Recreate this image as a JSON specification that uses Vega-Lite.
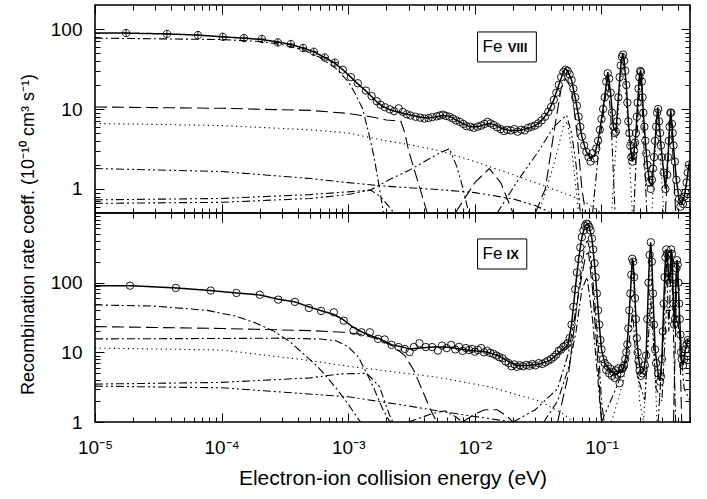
{
"$schema":"https://vega.github.io/schema/vega-lite/v6.json",
"padding":{"left":18,"top":3,"right":5,"bottom":5},
"config":{"view":{"stroke":"black","strokeWidth":1.6},"font":"Liberation Sans",
"axis":{"labelFont":"Liberation Sans","titleFont":"Liberation Sans","labelColor":"black","titleColor":"black","tickColor":"black","domain":false,"grid":false,"labelFontSize":19,"titleFontSize":19,"titleFontWeight":"normal","tickWidth":1}},
"datasets":{
"l8":[
{"s":"f","st":"solid","E":1e-5,"v":89},{"s":"f","st":"solid","E":1.76e-5,"v":89},{"s":"f","st":"solid","E":3.7e-5,"v":87},{"s":"f","st":"solid","E":6.5e-5,"v":84},{"s":"f","st":"solid","E":1.02e-4,"v":80},{"s":"f","st":"solid","E":1.5e-4,"v":77},{"s":"f","st":"solid","E":2.08e-4,"v":74},{"s":"f","st":"solid","E":2.78e-4,"v":69},{"s":"f","st":"solid","E":3.52e-4,"v":64},{"s":"f","st":"solid","E":4.39e-4,"v":58},{"s":"f","st":"solid","E":5.35e-4,"v":52},{"s":"f","st":"solid","E":6.53e-4,"v":44},{"s":"f","st":"solid","E":7.83e-4,"v":37.5},{"s":"f","st":"solid","E":9.06e-4,"v":31},{"s":"f","st":"solid","E":1.05e-3,"v":25},{"s":"f","st":"solid","E":1.19e-3,"v":20.6},{"s":"f","st":"solid","E":1.38e-3,"v":16.8},{"s":"f","st":"solid","E":1.53e-3,"v":14.3},{"s":"f","st":"solid","E":1.68e-3,"v":12.3},{"s":"f","st":"solid","E":1.87e-3,"v":10.8},{"s":"f","st":"solid","E":2.13e-3,"v":9.8},{"s":"f","st":"solid","E":2.42e-3,"v":9.2},{"s":"f","st":"solid","E":2.8e-3,"v":8.7},{"s":"f","st":"solid","E":3.2e-3,"v":8.3},{"s":"f","st":"solid","E":3.7e-3,"v":7.9},{"s":"f","st":"solid","E":4.25e-3,"v":7.7},{"s":"f","st":"solid","E":5e-3,"v":8.0},{"s":"f","st":"solid","E":5.6e-3,"v":8.3},{"s":"f","st":"solid","E":6.3e-3,"v":8.1},{"s":"f","st":"solid","E":7.1e-3,"v":7.3},{"s":"f","st":"solid","E":8.1e-3,"v":6.5},{"s":"f","st":"solid","E":9.2e-3,"v":6.0},{"s":"f","st":"solid","E":1.05e-2,"v":6.0},{"s":"f","st":"solid","E":1.19e-2,"v":6.4},{"s":"f","st":"solid","E":1.3e-2,"v":6.6},{"s":"f","st":"solid","E":1.44e-2,"v":6.3},{"s":"f","st":"solid","E":1.63e-2,"v":5.7},{"s":"f","st":"solid","E":1.88e-2,"v":5.4},{"s":"f","st":"solid","E":2.26e-2,"v":5.4},{"s":"f","st":"solid","E":2.71e-2,"v":5.8},{"s":"f","st":"solid","E":3.0e-2,"v":6.2},{"s":"f","st":"solid","E":3.37e-2,"v":7.2},{"s":"f","st":"solid","E":3.8e-2,"v":9.2},{"s":"f","st":"solid","E":4.2e-2,"v":13},{"s":"f","st":"solid","E":4.6e-2,"v":20},{"s":"f","st":"solid","E":5.0e-2,"v":29},{"s":"f","st":"solid","E":5.2e-2,"v":32},{"s":"f","st":"solid","E":5.4e-2,"v":30},{"s":"f","st":"solid","E":5.8e-2,"v":23},{"s":"f","st":"solid","E":6.2e-2,"v":14},{"s":"f","st":"solid","E":6.6e-2,"v":8},{"s":"f","st":"solid","E":7.0e-2,"v":4.5},{"s":"f","st":"solid","E":7.6e-2,"v":2.9},{"s":"f","st":"solid","E":8.2e-2,"v":2.4},{"s":"f","st":"solid","E":8.8e-2,"v":2.6},{"s":"f","st":"solid","E":9.4e-2,"v":4},{"s":"f","st":"solid","E":0.1,"v":7.5},{"s":"f","st":"solid","E":0.106,"v":14},{"s":"f","st":"solid","E":0.112,"v":29},{"s":"f","st":"solid","E":0.118,"v":16},{"s":"f","st":"solid","E":0.124,"v":6},{"s":"f","st":"solid","E":0.13,"v":5.2},{"s":"f","st":"solid","E":0.136,"v":14},{"s":"f","st":"solid","E":0.142,"v":35},{"s":"f","st":"solid","E":0.147,"v":50},{"s":"f","st":"solid","E":0.151,"v":40},{"s":"f","st":"solid","E":0.157,"v":20},{"s":"f","st":"solid","E":0.163,"v":7},{"s":"f","st":"solid","E":0.169,"v":3.5},{"s":"f","st":"solid","E":0.175,"v":2.2},{"s":"f","st":"solid","E":0.181,"v":3},{"s":"f","st":"solid","E":0.187,"v":5},{"s":"f","st":"solid","E":0.193,"v":12},{"s":"f","st":"solid","E":0.199,"v":25},{"s":"f","st":"solid","E":0.204,"v":31},{"s":"f","st":"solid","E":0.208,"v":22},{"s":"f","st":"solid","E":0.214,"v":9},{"s":"f","st":"solid","E":0.222,"v":4},{"s":"f","st":"solid","E":0.23,"v":2},{"s":"f","st":"solid","E":0.24,"v":1.2},{"s":"f","st":"solid","E":0.25,"v":1.1},{"s":"f","st":"solid","E":0.26,"v":2.5},{"s":"f","st":"solid","E":0.27,"v":6},{"s":"f","st":"solid","E":0.278,"v":10.5},{"s":"f","st":"solid","E":0.285,"v":7},{"s":"f","st":"solid","E":0.295,"v":3.5},{"s":"f","st":"solid","E":0.31,"v":1.6},{"s":"f","st":"solid","E":0.32,"v":1.0},{"s":"f","st":"solid","E":0.335,"v":2.5},{"s":"f","st":"solid","E":0.345,"v":6},{"s":"f","st":"solid","E":0.352,"v":9.7},{"s":"f","st":"solid","E":0.36,"v":6.5},{"s":"f","st":"solid","E":0.37,"v":3.5},{"s":"f","st":"solid","E":0.39,"v":1.3},{"s":"f","st":"solid","E":0.41,"v":0.75},{"s":"f","st":"solid","E":0.43,"v":0.65},{"s":"f","st":"solid","E":0.45,"v":0.8},{"s":"f","st":"solid","E":0.47,"v":1.2},{"s":"f","st":"solid","E":0.49,"v":2.0},{"s":"f","st":"solid","E":0.5,"v":2.3},
{"s":"c1","st":"dashdot","E":1e-5,"v":77},{"s":"c1","st":"dashdot","E":1e-4,"v":74},{"s":"c1","st":"dashdot","E":2e-4,"v":70},{"s":"c1","st":"dashdot","E":3e-4,"v":64},{"s":"c1","st":"dashdot","E":4.4e-4,"v":55},{"s":"c1","st":"dashdot","E":6e-4,"v":44},{"s":"c1","st":"dashdot","E":8e-4,"v":32},{"s":"c1","st":"dashdot","E":1e-3,"v":22},{"s":"c1","st":"dashdot","E":1.15e-3,"v":15},{"s":"c1","st":"dashdot","E":1.3e-3,"v":10},{"s":"c1","st":"dashdot","E":1.45e-3,"v":5},{"s":"c1","st":"dashdot","E":1.6e-3,"v":2.5},{"s":"c1","st":"dashdot","E":1.75e-3,"v":1.1},{"s":"c1","st":"dashdot","E":1.9e-3,"v":0.5},
{"s":"c2","st":"longdash","E":1e-5,"v":10.6},{"s":"c2","st":"longdash","E":1e-4,"v":10.2},{"s":"c2","st":"longdash","E":5e-4,"v":9.6},{"s":"c2","st":"longdash","E":1e-3,"v":8.8},{"s":"c2","st":"longdash","E":1.5e-3,"v":8},{"s":"c2","st":"longdash","E":2e-3,"v":7.3},{"s":"c2","st":"longdash","E":2.6e-3,"v":7},{"s":"c2","st":"longdash","E":2.8e-3,"v":5},{"s":"c2","st":"longdash","E":3e-3,"v":3},{"s":"c2","st":"longdash","E":3.3e-3,"v":1.8},{"s":"c2","st":"longdash","E":3.7e-3,"v":1},{"s":"c2","st":"longdash","E":4.2e-3,"v":0.5},
{"s":"c3","st":"dotted","E":1e-5,"v":6.6},{"s":"c3","st":"dotted","E":1e-4,"v":6.2},{"s":"c3","st":"dotted","E":5e-4,"v":5.5},{"s":"c3","st":"dotted","E":1e-3,"v":5},{"s":"c3","st":"dotted","E":2e-3,"v":4},{"s":"c3","st":"dotted","E":3e-3,"v":3.6},{"s":"c3","st":"dotted","E":5.3e-3,"v":3},{"s":"c3","st":"dotted","E":1e-2,"v":2.2},{"s":"c3","st":"dotted","E":1.8e-2,"v":1.6},{"s":"c3","st":"dotted","E":3.5e-2,"v":1.1},{"s":"c3","st":"dotted","E":7e-2,"v":0.73},{"s":"c3","st":"dotted","E":0.1,"v":0.5},
{"s":"c4","st":"dashdotdot","E":1e-5,"v":1.8},{"s":"c4","st":"dashdotdot","E":1e-4,"v":1.65},{"s":"c4","st":"dashdotdot","E":5e-4,"v":1.35},{"s":"c4","st":"dashdotdot","E":1e-3,"v":1.2},{"s":"c4","st":"dashdotdot","E":2e-3,"v":1.08},{"s":"c4","st":"dashdotdot","E":5.3e-3,"v":0.98},{"s":"c4","st":"dashdotdot","E":1e-2,"v":0.9},{"s":"c4","st":"dashdotdot","E":2e-2,"v":0.75},{"s":"c4","st":"dashdotdot","E":3e-2,"v":0.62},{"s":"c4","st":"dashdotdot","E":4e-2,"v":0.5},
{"s":"c5","st":"dashdotdot","E":1e-5,"v":0.73},{"s":"c5","st":"dashdotdot","E":1e-4,"v":0.76},{"s":"c5","st":"dashdotdot","E":5e-4,"v":0.85},{"s":"c5","st":"dashdotdot","E":1e-3,"v":0.92},{"s":"c5","st":"dashdotdot","E":1.5e-3,"v":0.97},{"s":"c5","st":"dashdotdot","E":1.8e-3,"v":0.8},{"s":"c5","st":"dashdotdot","E":2.1e-3,"v":0.6},{"s":"c5","st":"dashdotdot","E":2.3e-3,"v":0.5},
{"s":"c6","st":"dashdotdot","E":1e-5,"v":0.66},{"s":"c6","st":"dashdotdot","E":1e-4,"v":0.68},{"s":"c6","st":"dashdotdot","E":5e-4,"v":0.76},{"s":"c6","st":"dashdotdot","E":1e-3,"v":0.85},{"s":"c6","st":"dashdotdot","E":1.5e-3,"v":0.97},{"s":"c6","st":"dashdotdot","E":2.1e-3,"v":1.3},{"s":"c6","st":"dashdotdot","E":3e-3,"v":1.7},{"s":"c6","st":"dashdotdot","E":4e-3,"v":2.2},{"s":"c6","st":"dashdotdot","E":5e-3,"v":2.7},{"s":"c6","st":"dashdotdot","E":6.3e-3,"v":3.2},{"s":"c6","st":"dashdotdot","E":7.2e-3,"v":1.9},{"s":"c6","st":"dashdotdot","E":8e-3,"v":1.06},{"s":"c6","st":"dashdotdot","E":8.8e-3,"v":0.56},{"s":"c6","st":"dashdotdot","E":9e-3,"v":0.5},
{"s":"r1","st":"dashdotdot","E":1.5e-2,"v":0.5},{"s":"r1","st":"dashdotdot","E":2.2e-2,"v":1.3},{"s":"r1","st":"dashdotdot","E":3.2e-2,"v":3},{"s":"r1","st":"dashdotdot","E":4.2e-2,"v":6},{"s":"r1","st":"dashdotdot","E":5.3e-2,"v":8.4},{"s":"r1","st":"dashdotdot","E":5.8e-2,"v":5},{"s":"r1","st":"dashdotdot","E":6.3e-2,"v":2},{"s":"r1","st":"dashdotdot","E":6.8e-2,"v":0.5},
{"s":"r2","st":"longdash","E":3.0e-2,"v":0.5},{"s":"r2","st":"longdash","E":3.6e-2,"v":1},{"s":"r2","st":"longdash","E":4.2e-2,"v":5},{"s":"r2","st":"longdash","E":4.8e-2,"v":18},{"s":"r2","st":"longdash","E":5.2e-2,"v":24},{"s":"r2","st":"longdash","E":5.8e-2,"v":18},{"s":"r2","st":"longdash","E":6.4e-2,"v":5},{"s":"r2","st":"longdash","E":7e-2,"v":1},{"s":"r2","st":"longdash","E":7.5e-2,"v":0.5},
{"s":"r3","st":"dashdot","E":8.5e-2,"v":0.5},{"s":"r3","st":"dashdot","E":9.5e-2,"v":3},{"s":"r3","st":"dashdot","E":0.106,"v":12},{"s":"r3","st":"dashdot","E":0.112,"v":25},{"s":"r3","st":"dashdot","E":0.119,"v":7},{"s":"r3","st":"dashdot","E":0.128,"v":0.5},
{"s":"r3b","st":"dashdot","E":0.18,"v":0.5},{"s":"r3b","st":"dashdot","E":0.195,"v":10},{"s":"r3b","st":"dashdot","E":0.204,"v":28},{"s":"r3b","st":"dashdot","E":0.213,"v":6},{"s":"r3b","st":"dashdot","E":0.228,"v":0.5},
{"s":"r4","st":"dotted","E":0.12,"v":0.5},{"s":"r4","st":"dotted","E":0.135,"v":8},{"s":"r4","st":"dotted","E":0.147,"v":45},{"s":"r4","st":"dotted","E":0.16,"v":8},{"s":"r4","st":"dotted","E":0.175,"v":0.5},
{"s":"r4b","st":"dotted","E":0.25,"v":0.5},{"s":"r4b","st":"dotted","E":0.268,"v":4},{"s":"r4b","st":"dotted","E":0.278,"v":9.5},{"s":"r4b","st":"dotted","E":0.29,"v":3},{"s":"r4b","st":"dotted","E":0.31,"v":0.5},
{"s":"r5","st":"longdash","E":0.32,"v":0.5},{"s":"r5","st":"longdash","E":0.342,"v":4},{"s":"r5","st":"longdash","E":0.352,"v":9},{"s":"r5","st":"longdash","E":0.365,"v":3},{"s":"r5","st":"longdash","E":0.385,"v":0.5},
{"s":"r6","st":"longdash","E":7e-3,"v":0.5},{"s":"r6","st":"longdash","E":1e-2,"v":1.2},{"s":"r6","st":"longdash","E":1.3e-2,"v":1.8},{"s":"r6","st":"longdash","E":1.6e-2,"v":1.2},{"s":"r6","st":"longdash","E":2e-2,"v":0.5},
{"s":"r8","st":"dotted","E":3.2e-2,"v":0.5},{"s":"r8","st":"dotted","E":4.2e-2,"v":2},{"s":"r8","st":"dotted","E":5e-2,"v":6},{"s":"r8","st":"dotted","E":5.4e-2,"v":7},{"s":"r8","st":"dotted","E":6e-2,"v":2},{"s":"r8","st":"dotted","E":6.6e-2,"v":0.5}
],
"p8x":[{"E":1.76e-5,"v":89},{"E":3.7e-5,"v":87},{"E":6.5e-5,"v":84},{"E":1.02e-4,"v":80},{"E":1.5e-4,"v":77},{"E":2.08e-4,"v":75},{"E":2.78e-4,"v":68},{"E":3.52e-4,"v":65},{"E":4.39e-4,"v":58},{"E":5.35e-4,"v":52},{"E":6.53e-4,"v":44},{"E":7.83e-4,"v":38}],
"p8":[{"E":9.06e-4,"v":31},{"E":1.05e-3,"v":25},{"E":1.19e-3,"v":21},{"E":1.38e-3,"v":17},{"E":1.53e-3,"v":14.5},{"E":1.68e-3,"v":12.5},{"E":1.8e-3,"v":11.3},{"E":1.95e-3,"v":10.5},{"E":2.13e-3,"v":9.9},{"E":2.3e-3,"v":9.4},{"E":2.5e-3,"v":10.2},{"E":2.7e-3,"v":9.2},{"E":2.9e-3,"v":8.6},{"E":3.1e-3,"v":8.3},{"E":3.4e-3,"v":8.0},{"E":3.7e-3,"v":7.8},{"E":4.0e-3,"v":7.6},{"E":4.3e-3,"v":7.7},{"E":4.6e-3,"v":7.9},{"E":5.0e-3,"v":8.1},{"E":5.3e-3,"v":8.3},{"E":5.6e-3,"v":8.5},{"E":5.9e-3,"v":8.2},{"E":6.3e-3,"v":8.0},{"E":6.7e-3,"v":7.6},{"E":7.1e-3,"v":7.2},{"E":7.6e-3,"v":6.9},{"E":8.1e-3,"v":6.5},{"E":8.6e-3,"v":6.1},{"E":9.2e-3,"v":6.0},{"E":9.8e-3,"v":5.8},{"E":1.05e-2,"v":6.0},{"E":1.12e-2,"v":6.2},{"E":1.19e-2,"v":6.5},{"E":1.26e-2,"v":6.9},{"E":1.33e-2,"v":6.6},{"E":1.41e-2,"v":6.3},{"E":1.5e-2,"v":5.9},{"E":1.6e-2,"v":5.6},{"E":1.7e-2,"v":5.3},{"E":1.8e-2,"v":5.5},{"E":1.92e-2,"v":5.4},{"E":2.05e-2,"v":5.6},{"E":2.18e-2,"v":5.2},{"E":2.32e-2,"v":5.5},{"E":2.47e-2,"v":5.4},{"E":2.63e-2,"v":5.8},{"E":2.8e-2,"v":6.0},{"E":2.98e-2,"v":6.2},{"E":3.17e-2,"v":6.6},{"E":3.37e-2,"v":7.2},{"E":3.58e-2,"v":8.0},{"E":3.8e-2,"v":9.2},{"E":4.0e-2,"v":10.6},{"E":4.2e-2,"v":13},{"E":4.4e-2,"v":16},{"E":4.6e-2,"v":20},{"E":4.8e-2,"v":25},{"E":5.0e-2,"v":29},{"E":5.2e-2,"v":31},{"E":5.4e-2,"v":30},{"E":5.6e-2,"v":27},{"E":5.8e-2,"v":23},{"E":6.0e-2,"v":18},{"E":6.2e-2,"v":14},{"E":6.4e-2,"v":11},{"E":6.6e-2,"v":8},{"E":6.8e-2,"v":6},{"E":7.0e-2,"v":4.5},{"E":7.3e-2,"v":3.5},{"E":7.6e-2,"v":2.9},{"E":7.9e-2,"v":2.5},{"E":8.2e-2,"v":2.2},{"E":8.5e-2,"v":2.8},{"E":8.8e-2,"v":2.4},{"E":9.1e-2,"v":3.2},{"E":9.4e-2,"v":4},{"E":9.7e-2,"v":5.5},{"E":0.1,"v":7.5},{"E":0.103,"v":10},{"E":0.106,"v":14},{"E":0.109,"v":22},{"E":0.112,"v":28},{"E":0.115,"v":24},{"E":0.118,"v":16},{"E":0.121,"v":9},{"E":0.124,"v":6},{"E":0.127,"v":5},{"E":0.13,"v":5.2},{"E":0.133,"v":7},{"E":0.136,"v":14},{"E":0.139,"v":25},{"E":0.142,"v":35},{"E":0.145,"v":45},{"E":0.148,"v":48},{"E":0.151,"v":40},{"E":0.154,"v":30},{"E":0.157,"v":20},{"E":0.16,"v":12},{"E":0.163,"v":7},{"E":0.166,"v":5},{"E":0.169,"v":3.5},{"E":0.172,"v":2.5},{"E":0.175,"v":2.2},{"E":0.178,"v":2.6},{"E":0.181,"v":3},{"E":0.184,"v":3.8},{"E":0.187,"v":5},{"E":0.19,"v":8},{"E":0.193,"v":12},{"E":0.196,"v":18},{"E":0.199,"v":25},{"E":0.202,"v":30},{"E":0.205,"v":29},{"E":0.208,"v":22},{"E":0.211,"v":14},{"E":0.214,"v":9},{"E":0.218,"v":6},{"E":0.222,"v":4},{"E":0.226,"v":2.8},{"E":0.23,"v":2},{"E":0.235,"v":1.5},{"E":0.24,"v":1.2},{"E":0.245,"v":1.0},{"E":0.25,"v":1.3},{"E":0.255,"v":1.8},{"E":0.26,"v":2.5},{"E":0.265,"v":4},{"E":0.27,"v":6},{"E":0.275,"v":9},{"E":0.28,"v":10},{"E":0.285,"v":7},{"E":0.29,"v":5},{"E":0.295,"v":3.5},{"E":0.3,"v":2.5},{"E":0.31,"v":1.6},{"E":0.32,"v":1.0},{"E":0.33,"v":1.5},{"E":0.335,"v":2.5},{"E":0.34,"v":4},{"E":0.345,"v":6},{"E":0.35,"v":9},{"E":0.355,"v":9},{"E":0.36,"v":6.5},{"E":0.365,"v":5},{"E":0.37,"v":3.5},{"E":0.38,"v":2.2},{"E":0.39,"v":1.3},{"E":0.4,"v":0.9},{"E":0.41,"v":0.75},{"E":0.42,"v":0.6},{"E":0.43,"v":0.7},{"E":0.44,"v":0.65},{"E":0.45,"v":0.8},{"E":0.46,"v":0.9},{"E":0.47,"v":1.2},{"E":0.48,"v":1.6},{"E":0.49,"v":2.0}],
"l9":[
{"s":"f","st":"solid","E":1e-5,"v":90.6},{"s":"f","st":"solid","E":1.89e-5,"v":90.6},{"s":"f","st":"solid","E":4.35e-5,"v":84},{"s":"f","st":"solid","E":8.24e-5,"v":77},{"s":"f","st":"solid","E":1.32e-4,"v":71},{"s":"f","st":"solid","E":2.0e-4,"v":66.6},{"s":"f","st":"solid","E":2.78e-4,"v":58},{"s":"f","st":"solid","E":3.79e-4,"v":53},{"s":"f","st":"solid","E":4.89e-4,"v":45},{"s":"f","st":"solid","E":6.19e-4,"v":39.3},{"s":"f","st":"solid","E":7.69e-4,"v":35},{"s":"f","st":"solid","E":9.23e-4,"v":29},{"s":"f","st":"solid","E":1.09e-3,"v":23},{"s":"f","st":"solid","E":1.28e-3,"v":19.6},{"s":"f","st":"solid","E":1.53e-3,"v":17.2},{"s":"f","st":"solid","E":1.77e-3,"v":15.6},{"s":"f","st":"solid","E":2.21e-3,"v":12.8},{"s":"f","st":"solid","E":2.65e-3,"v":12.0},{"s":"f","st":"solid","E":3.06e-3,"v":11.2},{"s":"f","st":"solid","E":3.67e-3,"v":11.5},{"s":"f","st":"solid","E":4.3e-3,"v":11.8},{"s":"f","st":"solid","E":5.0e-3,"v":12.0},{"s":"f","st":"solid","E":6.34e-3,"v":11.8},{"s":"f","st":"solid","E":7.6e-3,"v":11.2},{"s":"f","st":"solid","E":9.6e-3,"v":10.6},{"s":"f","st":"solid","E":1.24e-2,"v":10.1},{"s":"f","st":"solid","E":1.52e-2,"v":9.0},{"s":"f","st":"solid","E":1.79e-2,"v":7.6},{"s":"f","st":"solid","E":2.14e-2,"v":6.5},{"s":"f","st":"solid","E":2.57e-2,"v":6.45},{"s":"f","st":"solid","E":3.25e-2,"v":6.8},{"s":"f","st":"solid","E":3.9e-2,"v":7.6},{"s":"f","st":"solid","E":4.68e-2,"v":10.1},{"s":"f","st":"solid","E":5.41e-2,"v":12.5},{"s":"f","st":"solid","E":5.8e-2,"v":25},{"s":"f","st":"solid","E":6.2e-2,"v":80},{"s":"f","st":"solid","E":6.6e-2,"v":220},{"s":"f","st":"solid","E":7.0e-2,"v":450},{"s":"f","st":"solid","E":7.4e-2,"v":650},{"s":"f","st":"solid","E":7.7e-2,"v":700},{"s":"f","st":"solid","E":8.0e-2,"v":630},{"s":"f","st":"solid","E":8.4e-2,"v":430},{"s":"f","st":"solid","E":8.8e-2,"v":190},{"s":"f","st":"solid","E":9.2e-2,"v":70},{"s":"f","st":"solid","E":9.6e-2,"v":25},{"s":"f","st":"solid","E":0.1,"v":11},{"s":"f","st":"solid","E":0.106,"v":7},{"s":"f","st":"solid","E":0.116,"v":5.5},{"s":"f","st":"solid","E":0.132,"v":4.9},{"s":"f","st":"solid","E":0.147,"v":5.5},{"s":"f","st":"solid","E":0.157,"v":9},{"s":"f","st":"solid","E":0.163,"v":22},{"s":"f","st":"solid","E":0.169,"v":70},{"s":"f","st":"solid","E":0.175,"v":220},{"s":"f","st":"solid","E":0.178,"v":200},{"s":"f","st":"solid","E":0.184,"v":60},{"s":"f","st":"solid","E":0.19,"v":16},{"s":"f","st":"solid","E":0.197,"v":8},{"s":"f","st":"solid","E":0.205,"v":5},{"s":"f","st":"solid","E":0.215,"v":5.5},{"s":"f","st":"solid","E":0.225,"v":9},{"s":"f","st":"solid","E":0.23,"v":30},{"s":"f","st":"solid","E":0.235,"v":100},{"s":"f","st":"solid","E":0.24,"v":250},{"s":"f","st":"solid","E":0.245,"v":380},{"s":"f","st":"solid","E":0.25,"v":200},{"s":"f","st":"solid","E":0.255,"v":70},{"s":"f","st":"solid","E":0.265,"v":11},{"s":"f","st":"solid","E":0.28,"v":5},{"s":"f","st":"solid","E":0.29,"v":3.9},{"s":"f","st":"solid","E":0.3,"v":8},{"s":"f","st":"solid","E":0.31,"v":50},{"s":"f","st":"solid","E":0.32,"v":230},{"s":"f","st":"solid","E":0.325,"v":300},{"s":"f","st":"solid","E":0.33,"v":260},{"s":"f","st":"solid","E":0.34,"v":110},{"s":"f","st":"solid","E":0.345,"v":100},{"s":"f","st":"solid","E":0.355,"v":300},{"s":"f","st":"solid","E":0.36,"v":260},{"s":"f","st":"solid","E":0.37,"v":50},{"s":"f","st":"solid","E":0.378,"v":22},{"s":"f","st":"solid","E":0.385,"v":80},{"s":"f","st":"solid","E":0.395,"v":210},{"s":"f","st":"solid","E":0.4,"v":180},{"s":"f","st":"solid","E":0.41,"v":50},{"s":"f","st":"solid","E":0.42,"v":18},{"s":"f","st":"solid","E":0.43,"v":8},{"s":"f","st":"solid","E":0.44,"v":6.5},{"s":"f","st":"solid","E":0.46,"v":11},{"s":"f","st":"solid","E":0.48,"v":15},{"s":"f","st":"solid","E":0.5,"v":14},
{"s":"a","st":"dashdot","E":1e-5,"v":48},{"s":"a","st":"dashdot","E":3e-5,"v":46},{"s":"a","st":"dashdot","E":7.7e-5,"v":40},{"s":"a","st":"dashdot","E":1.3e-4,"v":33},{"s":"a","st":"dashdot","E":1.9e-4,"v":26},{"s":"a","st":"dashdot","E":2.6e-4,"v":20},{"s":"a","st":"dashdot","E":3.5e-4,"v":14},{"s":"a","st":"dashdot","E":4.7e-4,"v":8.6},{"s":"a","st":"dashdot","E":5.6e-4,"v":6.5},{"s":"a","st":"dashdot","E":6.8e-4,"v":4.4},{"s":"a","st":"dashdot","E":8.1e-4,"v":3},{"s":"a","st":"dashdot","E":1e-3,"v":1.8},{"s":"a","st":"dashdot","E":1.17e-3,"v":1.18},{"s":"a","st":"dashdot","E":1.25e-3,"v":1.0},
{"s":"b","st":"longdash","E":1e-5,"v":23.4},{"s":"b","st":"longdash","E":1e-4,"v":22},{"s":"b","st":"longdash","E":5e-4,"v":20.5},{"s":"b","st":"longdash","E":9.1e-4,"v":19.4},{"s":"b","st":"longdash","E":1.3e-3,"v":18},{"s":"b","st":"longdash","E":1.8e-3,"v":15},{"s":"b","st":"longdash","E":2.3e-3,"v":12},{"s":"b","st":"longdash","E":2.8e-3,"v":9},{"s":"b","st":"longdash","E":3.3e-3,"v":5.5},{"s":"b","st":"longdash","E":3.8e-3,"v":3},{"s":"b","st":"longdash","E":4.4e-3,"v":1.6},{"s":"b","st":"longdash","E":5e-3,"v":1},
{"s":"c","st":"dashdot","E":1e-5,"v":15.6},{"s":"c","st":"dashdot","E":1e-4,"v":15.8},{"s":"c","st":"dashdot","E":3e-4,"v":16},{"s":"c","st":"dashdot","E":6e-4,"v":15.5},{"s":"c","st":"dashdot","E":8e-4,"v":14.7},{"s":"c","st":"dashdot","E":1e-3,"v":12},{"s":"c","st":"dashdot","E":1.2e-3,"v":8.6},{"s":"c","st":"dashdot","E":1.4e-3,"v":5},{"s":"c","st":"dashdot","E":1.6e-3,"v":3},{"s":"c","st":"dashdot","E":1.85e-3,"v":1.6},{"s":"c","st":"dashdot","E":2.1e-3,"v":1.05},{"s":"c","st":"dashdot","E":2.2e-3,"v":1},
{"s":"d","st":"dotted","E":1e-5,"v":11.5},{"s":"d","st":"dotted","E":1e-4,"v":10.8},{"s":"d","st":"dotted","E":5.1e-4,"v":7.6},{"s":"d","st":"dotted","E":1e-3,"v":6.3},{"s":"d","st":"dotted","E":2e-3,"v":5.4},{"s":"d","st":"dotted","E":5e-3,"v":4.4},{"s":"d","st":"dotted","E":1.3e-2,"v":3.2},{"s":"d","st":"dotted","E":3.25e-2,"v":2.0},{"s":"d","st":"dotted","E":5e-2,"v":1.3},{"s":"d","st":"dotted","E":6e-2,"v":1},
{"s":"e","st":"dashdotdot","E":1e-5,"v":3.5},{"s":"e","st":"dashdotdot","E":1e-4,"v":3.7},{"s":"e","st":"dashdotdot","E":5e-4,"v":4.3},{"s":"e","st":"dashdotdot","E":8.6e-4,"v":4.9},{"s":"e","st":"dashdotdot","E":1.4e-3,"v":5.0},{"s":"e","st":"dashdotdot","E":1.77e-3,"v":3.2},{"s":"e","st":"dashdotdot","E":2.1e-3,"v":1.3},{"s":"e","st":"dashdotdot","E":2.25e-3,"v":1},
{"s":"g","st":"dashdotdot","E":1e-5,"v":3.27},{"s":"g","st":"dashdotdot","E":1e-4,"v":3.1},{"s":"g","st":"dashdotdot","E":1e-3,"v":2.3},{"s":"g","st":"dashdotdot","E":3e-3,"v":1.7},{"s":"g","st":"dashdotdot","E":5e-3,"v":1.45},{"s":"g","st":"dashdotdot","E":1e-2,"v":1.2},{"s":"g","st":"dashdotdot","E":2e-2,"v":1.0},
{"s":"h","st":"dashdot","E":3e-3,"v":1},{"s":"h","st":"dashdot","E":4.5e-3,"v":1.3},{"s":"h","st":"dashdot","E":5.8e-3,"v":1.45},{"s":"h","st":"dashdot","E":7e-3,"v":1.2},{"s":"h","st":"dashdot","E":8e-3,"v":1},
{"s":"i","st":"longdash","E":8e-3,"v":1},{"s":"i","st":"longdash","E":1e-2,"v":1.3},{"s":"i","st":"longdash","E":1.2e-2,"v":1.5},{"s":"i","st":"longdash","E":1.5e-2,"v":1.5},{"s":"i","st":"longdash","E":1.8e-2,"v":1.2},{"s":"i","st":"longdash","E":2e-2,"v":1},
{"s":"r1","st":"dashdotdot","E":2e-2,"v":1},{"s":"r1","st":"dashdotdot","E":3e-2,"v":1.5},{"s":"r1","st":"dashdotdot","E":4.5e-2,"v":3},{"s":"r1","st":"dashdotdot","E":5.5e-2,"v":10},{"s":"r1","st":"dashdotdot","E":6.5e-2,"v":60},{"s":"r1","st":"dashdotdot","E":7.3e-2,"v":300},{"s":"r1","st":"dashdotdot","E":7.7e-2,"v":420},{"s":"r1","st":"dashdotdot","E":8.1e-2,"v":300},{"s":"r1","st":"dashdotdot","E":8.8e-2,"v":60},{"s":"r1","st":"dashdotdot","E":9.5e-2,"v":10},{"s":"r1","st":"dashdotdot","E":0.1,"v":2},{"s":"r1","st":"dashdotdot","E":0.105,"v":1},
{"s":"r2","st":"longdash","E":4.5e-2,"v":1},{"s":"r2","st":"longdash","E":5.5e-2,"v":5},{"s":"r2","st":"longdash","E":6.5e-2,"v":60},{"s":"r2","st":"longdash","E":7.5e-2,"v":250},{"s":"r2","st":"longdash","E":7.9e-2,"v":270},{"s":"r2","st":"longdash","E":8.5e-2,"v":80},{"s":"r2","st":"longdash","E":9.5e-2,"v":5},{"s":"r2","st":"longdash","E":0.1,"v":1},
{"s":"r2b","st":"dashdot","E":3.5e-2,"v":1},{"s":"r2b","st":"dashdot","E":4.5e-2,"v":2},{"s":"r2b","st":"dashdot","E":5.5e-2,"v":6},{"s":"r2b","st":"dashdot","E":6.3e-2,"v":20},{"s":"r2b","st":"dashdot","E":7e-2,"v":80},{"s":"r2b","st":"dashdot","E":7.7e-2,"v":120},{"s":"r2b","st":"dashdot","E":8.5e-2,"v":30},{"s":"r2b","st":"dashdot","E":9.5e-2,"v":3},{"s":"r2b","st":"dashdot","E":0.1,"v":1},
{"s":"r3","st":"dotted","E":0.12,"v":1},{"s":"r3","st":"dotted","E":0.15,"v":4},{"s":"r3","st":"dotted","E":0.165,"v":30},{"s":"r3","st":"dotted","E":0.176,"v":200},{"s":"r3","st":"dotted","E":0.185,"v":30},{"s":"r3","st":"dotted","E":0.2,"v":2},{"s":"r3","st":"dotted","E":0.215,"v":1},
{"s":"r3b","st":"dotted","E":0.215,"v":1},{"s":"r3b","st":"dotted","E":0.23,"v":10},{"s":"r3b","st":"dotted","E":0.245,"v":300},{"s":"r3b","st":"dotted","E":0.26,"v":10},{"s":"r3b","st":"dotted","E":0.275,"v":1},
{"s":"r4","st":"dashdot","E":0.28,"v":1},{"s":"r4","st":"dashdot","E":0.31,"v":20},{"s":"r4","st":"dashdot","E":0.325,"v":250},{"s":"r4","st":"dashdot","E":0.34,"v":20},{"s":"r4","st":"dashdot","E":0.35,"v":100},{"s":"r4","st":"dashdot","E":0.358,"v":250},{"s":"r4","st":"dashdot","E":0.37,"v":20},{"s":"r4","st":"dashdot","E":0.385,"v":1},
{"s":"r5","st":"longdash","E":0.37,"v":1},{"s":"r5","st":"longdash","E":0.39,"v":60},{"s":"r5","st":"longdash","E":0.399,"v":180},{"s":"r5","st":"longdash","E":0.41,"v":40},{"s":"r5","st":"longdash","E":0.43,"v":1},
{"s":"r6","st":"dashdotdot","E":0.1,"v":1},{"s":"r6","st":"dashdotdot","E":0.13,"v":3},{"s":"r6","st":"dashdotdot","E":0.16,"v":8},{"s":"r6","st":"dashdotdot","E":0.176,"v":40},{"s":"r6","st":"dashdotdot","E":0.19,"v":5},{"s":"r6","st":"dashdotdot","E":0.22,"v":2},{"s":"r6","st":"dashdotdot","E":0.245,"v":60},{"s":"r6","st":"dashdotdot","E":0.27,"v":3},{"s":"r6","st":"dashdotdot","E":0.3,"v":2},{"s":"r6","st":"dashdotdot","E":0.325,"v":40},{"s":"r6","st":"dashdotdot","E":0.36,"v":40},{"s":"r6","st":"dashdotdot","E":0.4,"v":30},{"s":"r6","st":"dashdotdot","E":0.45,"v":3},{"s":"r6","st":"dashdotdot","E":0.5,"v":2}
],
"p9":[{"E":1.89e-5,"v":90.6},{"E":4.35e-5,"v":84},{"E":8.2e-5,"v":77},{"E":1.31e-4,"v":71},{"E":2.0e-4,"v":67},{"E":2.8e-4,"v":57},{"E":3.79e-4,"v":53},{"E":4.89e-4,"v":43.3},{"E":6.1e-4,"v":39.3},{"E":7.7e-4,"v":37.5},{"E":9.2e-4,"v":28.5},{"E":1.1e-3,"v":20.5},{"E":1.27e-3,"v":19.4},{"E":1.48e-3,"v":19.4},{"E":1.72e-3,"v":15.6},{"E":1.94e-3,"v":15.3},{"E":2.2e-3,"v":12.8},{"E":2.5e-3,"v":11.9},{"E":2.8e-3,"v":11.2},{"E":3.05e-3,"v":10.1},{"E":3.3e-3,"v":11.9},{"E":3.65e-3,"v":13.5},{"E":4.1e-3,"v":11.9},{"E":4.6e-3,"v":11.9},{"E":5.1e-3,"v":10.6},{"E":5.5e-3,"v":12.5},{"E":6.0e-3,"v":11.5},{"E":6.5e-3,"v":12.8},{"E":7.0e-3,"v":11},{"E":7.5e-3,"v":12},{"E":8.0e-3,"v":10.5},{"E":8.5e-3,"v":11.5},{"E":9.0e-3,"v":10.8},{"E":9.5e-3,"v":11.2},{"E":1.0e-2,"v":10.2},{"E":1.06e-2,"v":10.8},{"E":1.12e-2,"v":11.5},{"E":1.18e-2,"v":10},{"E":1.25e-2,"v":10.5},{"E":1.32e-2,"v":9.8},{"E":1.4e-2,"v":9.5},{"E":1.48e-2,"v":9.0},{"E":1.56e-2,"v":8.5},{"E":1.65e-2,"v":8.2},{"E":1.75e-2,"v":7.4},{"E":1.85e-2,"v":7.0},{"E":1.95e-2,"v":6.3},{"E":2.05e-2,"v":6.7},{"E":2.15e-2,"v":6.2},{"E":2.27e-2,"v":6.5},{"E":2.4e-2,"v":6.3},{"E":2.55e-2,"v":6.6},{"E":2.7e-2,"v":6.4},{"E":2.85e-2,"v":6.8},{"E":3.0e-2,"v":6.5},{"E":3.2e-2,"v":7.0},{"E":3.4e-2,"v":6.8},{"E":3.6e-2,"v":7.2},{"E":3.8e-2,"v":7.6},{"E":4.0e-2,"v":8},{"E":4.2e-2,"v":8.6},{"E":4.4e-2,"v":9.3},{"E":4.6e-2,"v":10.5},{"E":4.8e-2,"v":11},{"E":5.0e-2,"v":12},{"E":5.2e-2,"v":12.5},{"E":5.4e-2,"v":13.5},{"E":5.6e-2,"v":16},{"E":5.8e-2,"v":25},{"E":6.0e-2,"v":45},{"E":6.2e-2,"v":80},{"E":6.4e-2,"v":140},{"E":6.6e-2,"v":220},{"E":6.8e-2,"v":320},{"E":7.0e-2,"v":450},{"E":7.2e-2,"v":560},{"E":7.4e-2,"v":650},{"E":7.6e-2,"v":700},{"E":7.8e-2,"v":690},{"E":8.0e-2,"v":630},{"E":8.2e-2,"v":560},{"E":8.4e-2,"v":430},{"E":8.6e-2,"v":300},{"E":8.8e-2,"v":190},{"E":9.0e-2,"v":120},{"E":9.2e-2,"v":70},{"E":9.4e-2,"v":40},{"E":9.6e-2,"v":25},{"E":9.8e-2,"v":15},{"E":0.1,"v":11},{"E":0.103,"v":8},{"E":0.106,"v":7},{"E":0.109,"v":5.6},{"E":0.112,"v":6.3},{"E":0.115,"v":5},{"E":0.118,"v":5.8},{"E":0.121,"v":4.6},{"E":0.124,"v":5.2},{"E":0.127,"v":4.3},{"E":0.13,"v":5.5},{"E":0.133,"v":4.8},{"E":0.136,"v":5.9},{"E":0.139,"v":3.6},{"E":0.142,"v":5},{"E":0.145,"v":5.8},{"E":0.148,"v":6},{"E":0.151,"v":6.5},{"E":0.154,"v":8},{"E":0.157,"v":10},{"E":0.16,"v":13},{"E":0.163,"v":22},{"E":0.166,"v":40},{"E":0.169,"v":70},{"E":0.172,"v":130},{"E":0.175,"v":220},{"E":0.178,"v":200},{"E":0.181,"v":120},{"E":0.184,"v":60},{"E":0.187,"v":30},{"E":0.19,"v":16},{"E":0.193,"v":10},{"E":0.196,"v":7.5},{"E":0.2,"v":5.5},{"E":0.205,"v":4.6},{"E":0.21,"v":5.0},{"E":0.215,"v":5.5},{"E":0.22,"v":6.5},{"E":0.225,"v":9},{"E":0.23,"v":30},{"E":0.235,"v":100},{"E":0.24,"v":250},{"E":0.245,"v":380},{"E":0.25,"v":200},{"E":0.255,"v":70},{"E":0.26,"v":25},{"E":0.265,"v":11},{"E":0.27,"v":7},{"E":0.28,"v":5},{"E":0.29,"v":3.8},{"E":0.295,"v":4.5},{"E":0.3,"v":8},{"E":0.305,"v":20},{"E":0.31,"v":50},{"E":0.315,"v":120},{"E":0.32,"v":230},{"E":0.325,"v":300},{"E":0.33,"v":260},{"E":0.335,"v":150},{"E":0.34,"v":110},{"E":0.345,"v":100},{"E":0.35,"v":200},{"E":0.355,"v":300},{"E":0.36,"v":260},{"E":0.365,"v":120},{"E":0.37,"v":50},{"E":0.375,"v":25},{"E":0.38,"v":30},{"E":0.385,"v":80},{"E":0.39,"v":160},{"E":0.395,"v":210},{"E":0.4,"v":180},{"E":0.405,"v":100},{"E":0.41,"v":50},{"E":0.415,"v":30},{"E":0.42,"v":18},{"E":0.425,"v":10},{"E":0.43,"v":8},{"E":0.44,"v":6.5},{"E":0.45,"v":8},{"E":0.46,"v":11},{"E":0.47,"v":13},{"E":0.48,"v":15},{"E":0.49,"v":14}],
"lab":[{"p":"8","k":"el","t":"Fe","E":1.15e-2,"v":60},{"p":"8","k":"ion","t":"VIII","E":1.82e-2,"v":60},{"p":"9","k":"el","t":"Fe","E":1.15e-2,"v":258},{"p":"9","k":"ion","t":"IX","E":1.78e-2,"v":258}],
"box":[{"p":"8","E1":1.05e-2,"E2":3.06e-2,"v1":92,"v2":38.8},{"p":"9","E1":1.05e-2,"E2":2.57e-2,"v1":424,"v2":157}]
},
"vconcat":[
{"width":595,"height":208,
"layer":[
{"data":{"name":"l8"},"mark":{"type":"line","clip":true,"color":"black"},
"encoding":{
"x":{"field":"E","type":"quantitative","scale":{"type":"log","domain":[1e-5,0.5],"nice":false},
"axis":{"orient":"bottom","values":[1e-5,2e-5,3e-5,4e-5,5e-5,6e-5,7e-5,8e-5,9e-5,1e-4,2e-4,3e-4,4e-4,5e-4,6e-4,7e-4,8e-4,9e-4,0.001,0.002,0.003,0.004,0.005,0.006,0.007,0.008,0.009,0.01,0.02,0.03,0.04,0.05,0.06,0.07,0.08,0.09,0.1,0.2,0.3,0.4,0.5],"labels":false,"title":null,
"tickSize":{"condition":{"test":"datum.value==1e-5||datum.value==1e-4||datum.value==0.001||datum.value==0.01||datum.value==0.1","value":-9},"value":-5}}},
"y":{"field":"v","type":"quantitative","scale":{"type":"log","domain":[0.5,200],"nice":false},
"axis":{"orient":"left","values":[0.6,0.7,0.8,0.9,1,2,3,4,5,6,7,8,9,10,20,30,40,50,60,70,80,90,100],"labelOverlap":false,
"labelExpr":"datum.value==1?'1':datum.value==10?'10':datum.value==100?'100':''","labelPadding":22,"labelBaseline":"middle",
"tickSize":{"condition":{"test":"datum.value==1||datum.value==10||datum.value==100","value":-9},"value":-5},
"title":"Recombination rate coeff. (10⁻¹⁰ cm³ s⁻¹)","titleFontSize":18,"titleX":-67,"titleY":229,"titleAngle":-90,"titleAlign":"center","titleBaseline":"middle"}},
"detail":{"field":"s"},
"strokeDash":{"field":"st","type":"nominal","scale":{"domain":["solid","dashdot","longdash","dotted","dashdotdot"],"range":[[1,0],[8,3,2,3],[12,5],[1.2,3.5],[8,3,2,3,2,3]]},"legend":null},
"strokeWidth":{"condition":{"test":"datum.st=='solid'","value":1.5},"value":1.1}}},
{"data":{"name":"p8"},"mark":{"type":"point","clip":true,"filled":false,"color":"black","size":55,"strokeWidth":0.9,"opacity":1},
"encoding":{
"x":{"field":"E","type":"quantitative","scale":{"type":"log","domain":[1e-5,0.5],"nice":false},
"axis":{"orient":"top","values":[1e-5,2e-5,3e-5,4e-5,5e-5,6e-5,7e-5,8e-5,9e-5,1e-4,2e-4,3e-4,4e-4,5e-4,6e-4,7e-4,8e-4,9e-4,0.001,0.002,0.003,0.004,0.005,0.006,0.007,0.008,0.009,0.01,0.02,0.03,0.04,0.05,0.06,0.07,0.08,0.09,0.1,0.2,0.3,0.4,0.5],"labels":false,"title":null,
"tickSize":{"condition":{"test":"datum.value==1e-5||datum.value==1e-4||datum.value==0.001||datum.value==0.01||datum.value==0.1","value":-9},"value":-5}}},
"y":{"field":"v","type":"quantitative","scale":{"type":"log","domain":[0.5,200],"nice":false},
"axis":{"orient":"right","values":[0.6,0.7,0.8,0.9,1,2,3,4,5,6,7,8,9,10,20,30,40,50,60,70,80,90,100],"labels":false,"title":null,
"tickSize":{"condition":{"test":"datum.value==1||datum.value==10||datum.value==100","value":-9},"value":-5}}}}},
{"data":{"name":"p8x"},"mark":{"type":"point","clip":true,"filled":false,"color":"black","size":55,"strokeWidth":0.9,"opacity":1,"shape":"M-1,0A1,1,0,1,1,1,0A1,1,0,1,1,-1,0M-1,0L1,0M0,-1L0,1"},
"encoding":{"x":{"field":"E","type":"quantitative","axis":null},"y":{"field":"v","type":"quantitative","axis":null}}},
{"data":{"name":"box"},"transform":[{"filter":"datum.p=='8'"}],"mark":{"type":"rect","fill":"white","stroke":"black","strokeWidth":1},
"encoding":{"x":{"field":"E1","type":"quantitative","axis":null},"x2":{"field":"E2"},"y":{"field":"v1","type":"quantitative","axis":null},"y2":{"field":"v2"}}},
{"data":{"name":"lab"},"transform":[{"filter":"datum.p=='8' && datum.k=='el'"}],"mark":{"type":"text","align":"left","baseline":"middle","fontSize":17,"font":"Liberation Sans","color":"black"},
"encoding":{"x":{"field":"E","type":"quantitative","axis":null},"y":{"field":"v","type":"quantitative","axis":null},"text":{"field":"t"}}},
{"data":{"name":"lab"},"transform":[{"filter":"datum.p=='8' && datum.k=='ion'"}],"mark":{"type":"text","align":"left","baseline":"middle","fontSize":13,"fontWeight":"bold","font":"Liberation Sans","color":"black","dy":1},
"encoding":{"x":{"field":"E","type":"quantitative","axis":null},"y":{"field":"v","type":"quantitative","axis":null},"text":{"field":"t"}}}
],
"resolve":{"axis":{"x":"independent","y":"independent"}}},
{"width":595,"height":209,
"layer":[
{"data":{"name":"l9"},"mark":{"type":"line","clip":true,"color":"black"},
"encoding":{
"x":{"field":"E","type":"quantitative","scale":{"type":"log","domain":[1e-5,0.5],"nice":false},
"axis":{"orient":"bottom","values":[1e-5,2e-5,3e-5,4e-5,5e-5,6e-5,7e-5,8e-5,9e-5,1e-4,2e-4,3e-4,4e-4,5e-4,6e-4,7e-4,8e-4,9e-4,0.001,0.002,0.003,0.004,0.005,0.006,0.007,0.008,0.009,0.01,0.02,0.03,0.04,0.05,0.06,0.07,0.08,0.09,0.1,0.2,0.3,0.4,0.5],"labelOverlap":false,"labelFlush":false,"labelBound":false,
"labelExpr":"datum.value==1e-5?'10⁻⁵':datum.value==1e-4?'10⁻⁴':datum.value==0.001?'10⁻³':datum.value==0.01?'10⁻²':datum.value==0.1?'10⁻¹':''","labelPadding":40,"labelBaseline":"alphabetic",
"tickSize":{"condition":{"test":"datum.value==1e-5||datum.value==1e-4||datum.value==0.001||datum.value==0.01||datum.value==0.1","value":-9},"value":-5},
"title":"Electron-ion collision energy (eV)","titleY":56,"titleBaseline":"middle","titleFontSize":21}},
"y":{"field":"v","type":"quantitative","scale":{"type":"log","domain":[1,1000],"nice":false},
"axis":{"orient":"left","values":[1,2,3,4,5,6,7,8,9,10,20,30,40,50,60,70,80,90,100,200,300,400,500,600,700,800,900],"labelOverlap":false,
"labelExpr":"datum.value==1?'1':datum.value==10?'10':datum.value==100?'100':''","labelPadding":22,"labelBaseline":"middle",
"tickSize":{"condition":{"test":"datum.value==1||datum.value==10||datum.value==100","value":-9},"value":-5},"title":null}},
"detail":{"field":"s"},
"strokeDash":{"field":"st","type":"nominal","scale":{"domain":["solid","dashdot","longdash","dotted","dashdotdot"],"range":[[1,0],[8,3,2,3],[12,5],[1.2,3.5],[8,3,2,3,2,3]]},"legend":null},
"strokeWidth":{"condition":{"test":"datum.st=='solid'","value":1.5},"value":1.1}}},
{"data":{"name":"p9"},"mark":{"type":"point","clip":true,"filled":false,"color":"black","size":55,"strokeWidth":0.9,"opacity":1},
"encoding":{
"x":{"field":"E","type":"quantitative","scale":{"type":"log","domain":[1e-5,0.5],"nice":false},
"axis":{"orient":"top","values":[1e-5,2e-5,3e-5,4e-5,5e-5,6e-5,7e-5,8e-5,9e-5,1e-4,2e-4,3e-4,4e-4,5e-4,6e-4,7e-4,8e-4,9e-4,0.001,0.002,0.003,0.004,0.005,0.006,0.007,0.008,0.009,0.01,0.02,0.03,0.04,0.05,0.06,0.07,0.08,0.09,0.1,0.2,0.3,0.4,0.5],"labels":false,"title":null,
"tickSize":{"condition":{"test":"datum.value==1e-5||datum.value==1e-4||datum.value==0.001||datum.value==0.01||datum.value==0.1","value":-9},"value":-5}}},
"y":{"field":"v","type":"quantitative","scale":{"type":"log","domain":[1,1000],"nice":false},
"axis":{"orient":"right","values":[1,2,3,4,5,6,7,8,9,10,20,30,40,50,60,70,80,90,100,200,300,400,500,600,700,800,900],"labels":false,"title":null,
"tickSize":{"condition":{"test":"datum.value==1||datum.value==10||datum.value==100","value":-9},"value":-5}}}}},
{"data":{"name":"box"},"transform":[{"filter":"datum.p=='9'"}],"mark":{"type":"rect","fill":"white","stroke":"black","strokeWidth":1},
"encoding":{"x":{"field":"E1","type":"quantitative","axis":null},"x2":{"field":"E2"},"y":{"field":"v1","type":"quantitative","axis":null},"y2":{"field":"v2"}}},
{"data":{"name":"lab"},"transform":[{"filter":"datum.p=='9' && datum.k=='el'"}],"mark":{"type":"text","align":"left","baseline":"middle","fontSize":17,"font":"Liberation Sans","color":"black"},
"encoding":{"x":{"field":"E","type":"quantitative","axis":null},"y":{"field":"v","type":"quantitative","axis":null},"text":{"field":"t"}}},
{"data":{"name":"lab"},"transform":[{"filter":"datum.p=='9' && datum.k=='ion'"}],"mark":{"type":"text","align":"left","baseline":"middle","fontSize":13,"fontWeight":"bold","font":"Liberation Sans","color":"black","dy":1},
"encoding":{"x":{"field":"E","type":"quantitative","axis":null},"y":{"field":"v","type":"quantitative","axis":null},"text":{"field":"t"}}}
],
"resolve":{"axis":{"x":"independent","y":"independent"}}}
],
"spacing":0,
"bounds":"flush"
}
